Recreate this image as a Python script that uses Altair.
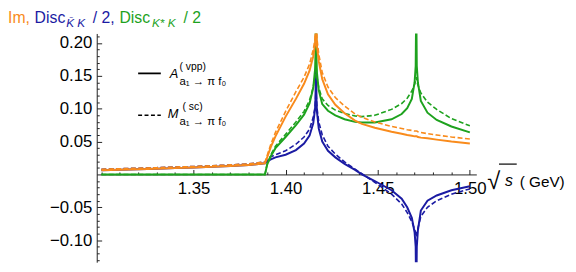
import altair as alt
import pandas as pd

# ---------------- data ----------------
s_vals = [1.300, 1.310, 1.320, 1.330, 1.340, 1.350, 1.360, 1.370, 1.380, 1.3888,
          1.3900, 1.3920, 1.3945, 1.400, 1.4056, 1.410, 1.413, 1.415, 1.416, 1.4162,
          1.4165, 1.4168, 1.417, 1.418, 1.4199, 1.423, 1.427, 1.432, 1.4377, 1.4414,
          1.4484, 1.4575, 1.463, 1.466, 1.4685, 1.4700, 1.4706, 1.4709, 1.4712, 1.4718,
          1.4734, 1.477, 1.482, 1.490, 1.500]

im_vpp = [0.0065, 0.0072, 0.0080, 0.0088, 0.0096, 0.0105, 0.0115, 0.0127, 0.0142, 0.0170,
          0.026, 0.042, 0.058, 0.088, 0.115, 0.138, 0.158, 0.180, 0.198, 0.212,
          0.26, 0.212, 0.196, 0.172, 0.145, 0.122, 0.106, 0.093, 0.082, 0.077,
          0.071, 0.065, 0.062, 0.060, 0.059, 0.058, 0.058, 0.058, 0.058, 0.057,
          0.056, 0.055, 0.053, 0.050, 0.047]
im_sc = [0.0080, 0.0087, 0.0095, 0.0103, 0.0112, 0.0121, 0.0132, 0.0145, 0.0162, 0.0190,
         0.029, 0.046, 0.064, 0.096, 0.126, 0.148, 0.168, 0.190, 0.207, 0.220,
         0.26, 0.222, 0.207, 0.183, 0.155, 0.133, 0.117, 0.104, 0.092, 0.087,
         0.080, 0.073, 0.070, 0.068, 0.067, 0.066, 0.066, 0.066, 0.066, 0.065,
         0.064, 0.062, 0.060, 0.057, 0.054]
kstar_vpp = [0, 0, 0, 0, 0, 0, 0, 0, 0, 0,
             0.015, 0.028, 0.040, 0.057, 0.075, 0.091, 0.108, 0.132, 0.160, 0.180,
             0.26, 0.175, 0.155, 0.128, 0.107, 0.097, 0.090, 0.084, 0.080, 0.079,
             0.079, 0.084, 0.092, 0.101, 0.115, 0.140, 0.165, 0.26, 0.165, 0.140,
             0.112, 0.094, 0.083, 0.073, 0.064]
kstar_sc = [0, 0, 0, 0, 0, 0, 0, 0, 0, 0,
            0.016, 0.030, 0.043, 0.061, 0.080, 0.096, 0.113, 0.133, 0.150, 0.158,
            0.165, 0.158, 0.148, 0.132, 0.115, 0.105, 0.098, 0.093, 0.089, 0.088,
            0.090, 0.099, 0.108, 0.116, 0.127, 0.137, 0.143, 0.148, 0.143, 0.136,
            0.124, 0.110, 0.099, 0.085, 0.074]
kbar_vpp = [0.0065, 0.0072, 0.0080, 0.0088, 0.0096, 0.0105, 0.0115, 0.0127, 0.0142, 0.0170,
            0.020, 0.023, 0.026, 0.030, 0.037, 0.047, 0.059, 0.078, 0.100, 0.115,
            0.158, 0.112, 0.096, 0.070, 0.050, 0.036, 0.026, 0.016, 0.007, 0.000,
            -0.010, -0.024, -0.037, -0.050, -0.066, -0.088, -0.110, -0.20, -0.110, -0.085,
            -0.055, -0.040, -0.032, -0.024, -0.018]
kbar_sc = [0.0080, 0.0087, 0.0095, 0.0103, 0.0112, 0.0121, 0.0132, 0.0145, 0.0162, 0.0190,
           0.023, 0.027, 0.030, 0.036, 0.046, 0.057, 0.069, 0.087, 0.103, 0.112,
           0.130, 0.112, 0.102, 0.080, 0.060, 0.043, 0.031, 0.019, 0.008, 0.001,
           -0.012, -0.030, -0.045, -0.058, -0.072, -0.083, -0.090, -0.095, -0.090, -0.082,
           -0.064, -0.050, -0.040, -0.030, -0.022]

x_major = [1.35, 1.40, 1.45, 1.50]
x_minor = [1.30, 1.31, 1.32, 1.33, 1.34, 1.36, 1.37, 1.38, 1.39, 1.41, 1.42, 1.43,
           1.44, 1.46, 1.47, 1.48, 1.49]
y_major = [-0.10, -0.05, 0.05, 0.10, 0.15, 0.20]
y_minor = [-0.13, -0.12, -0.11, -0.09, -0.08, -0.07, -0.06, -0.04, -0.03, -0.02, -0.01,
           0.01, 0.02, 0.03, 0.04, 0.06, 0.07, 0.08, 0.09, 0.11, 0.12, 0.13, 0.14,
           0.16, 0.17, 0.18, 0.19, 0.21]

title_texts = ["Im,", "Disc", "K\u0304  K", "/ 2,", "Disc", "K*  K", "/ 2"]
legend_main = ["A", "M"]
legend_sup = ["( vpp)", "( sc)"]
legend_sub = ["a\u2081 \u2192 \u03c0 f\u2080", "a\u2081 \u2192 \u03c0 f\u2080"]
xtitle_texts = ["\u221a", "s", "( GeV)"]

# ---------------- styling ----------------
FONT = "Liberation Sans"
ORANGE = "#F98B1C"
BLUE = "#1B1BA3"
GREEN = "#1EA21E"
AXC = "#222222"
W, H = 385, 232

df = pd.DataFrame({"s": s_vals, "im_vpp": im_vpp, "im_sc": im_sc,
                   "kstar_vpp": kstar_vpp, "kstar_sc": kstar_sc,
                   "kbar_vpp": kbar_vpp, "kbar_sc": kbar_sc})

xs = alt.Scale(domain=[1.2975, 1.5035], nice=False, zero=False)
ys = alt.Scale(domain=[-0.1336, 0.2146], nice=False, zero=False)
zero_px = H * 0.2146 / (0.2146 + 0.1336)

x_lab = alt.Axis(orient="bottom", offset=-(H - zero_px), values=x_major, format=".2f",
                 ticks=False, tickSize=0, labelPadding=6, domain=True, domainColor=AXC,
                 domainWidth=1, grid=False, title=None, labelFont=FONT, labelFontSize=17,
                 labelColor="black", labelOverlap=False, labelFlush=False)
x_tk = alt.Axis(orient="top", offset=-zero_px, values=x_major, ticks=True, tickSize=5,
                tickColor=AXC, tickWidth=1, labels=False, domain=False, grid=False, title=None)
x_mn = alt.Axis(orient="top", offset=-zero_px, values=x_minor, ticks=True, tickSize=2.5,
                tickColor=AXC, tickWidth=1, labels=False, domain=False, grid=False, title=None)
y_lab = alt.Axis(orient="left", values=y_major, format=".2f", ticks=False, tickSize=0,
                 labelPadding=5, domain=True, domainColor=AXC, domainWidth=1, grid=False,
                 title=None, labelFont=FONT, labelFontSize=17, labelColor="black",
                 labelOverlap=False, labelFlush=False)
y_tk = alt.Axis(orient="right", offset=-W, values=y_major, ticks=True, tickSize=5,
                tickColor=AXC, tickWidth=1, labels=False, domain=False, grid=False, title=None)
y_mn = alt.Axis(orient="right", offset=-W, values=y_minor, ticks=True, tickSize=2.5,
                tickColor=AXC, tickWidth=1, labels=False, domain=False, grid=False, title=None)


def axis_layer(ax, ay):
    return alt.Chart(df).mark_point(opacity=0).encode(
        x=alt.X("s:Q", scale=xs, axis=ax), y=alt.Y("im_vpp:Q", scale=ys, axis=ay))


def curve(col, color, dashed):
    kw = dict(clip=True, color=color, strokeWidth=1.6 if dashed else 2.0)
    if dashed:
        kw["strokeDash"] = [5, 2.5]
    return alt.Chart(df).mark_line(**kw).encode(
        x=alt.X("s:Q", scale=xs, axis=None), y=alt.Y(col + ":Q", scale=ys, axis=None))


def txt(t, x, y, size, color="black", style="normal"):
    return alt.Chart(pd.DataFrame({"t": [t]})).mark_text(
        align="left", baseline="alphabetic", font=FONT, fontSize=size,
        fontStyle=style, color=color).encode(text="t:N", x=alt.value(x), y=alt.value(y))


def hrule(x1, x2, y, dashed=False, width=1.8):
    kw = dict(color="black", strokeWidth=width)
    if dashed:
        kw["strokeDash"] = [4, 2.5]
    return alt.Chart(pd.DataFrame({"a": [0]})).mark_rule(**kw).encode(
        x=alt.value(x1), x2=alt.value(x2), y=alt.value(y))


layers = [axis_layer(x_lab, y_lab), axis_layer(x_tk, y_tk), axis_layer(x_mn, y_mn)]
for col, c, d in [("kbar_vpp", BLUE, False), ("kbar_sc", BLUE, True),
                  ("kstar_vpp", GREEN, False), ("kstar_sc", GREEN, True),
                  ("im_vpp", ORANGE, False), ("im_sc", ORANGE, True)]:
    layers.append(curve(col, c, d))

# title (plot coordinates: origin at the plot's top-left corner)
layers += [
    txt(title_texts[0], -90, -11, 16, ORANGE),
    txt(title_texts[1], -63, -11, 16, BLUE),
    txt(title_texts[2], -31, -7, 12, BLUE, "italic"),
    txt(title_texts[3], -4, -11, 16, BLUE),
    txt(title_texts[4], 23, -11, 16, GREEN),
    txt(title_texts[5], 56, -7, 12, GREEN, "italic"),
    txt(title_texts[6], 88, -11, 16, GREEN),
]
# legend
layers += [
    hrule(42, 65, 40.5),
    txt(legend_main[0], 74, 45, 13, "black", "italic"),
    txt(legend_sup[0], 84, 37, 10.5),
    txt(legend_sub[0], 84, 52, 11.5),
    hrule(42, 65, 83, dashed=True, width=1.5),
    txt(legend_main[1], 72, 86, 13, "black", "italic"),
    txt(legend_sup[1], 87, 78, 10.5),
    txt(legend_sub[1], 84, 93, 11.5),
]
# x-axis title  sqrt(s) (GeV)
layers += [
    txt(xtitle_texts[0], 396, 158, 24),
    hrule(408, 426, 132.5, width=1.2),
    txt(xtitle_texts[1], 414, 155, 16, "black", "italic"),
    txt(xtitle_texts[2], 429, 156, 15.5),
]

chart = alt.layer(*layers).resolve_axis(x="independent", y="independent").properties(
    width=W, height=H,
    padding={"left": 90, "top": 24, "right": 93, "bottom": 0},
    autosize=alt.AutoSizeParams(type="none"),
).configure_view(stroke=None)

chart.save("out.html", embed_options={"renderer": "svg", "actions": False})
